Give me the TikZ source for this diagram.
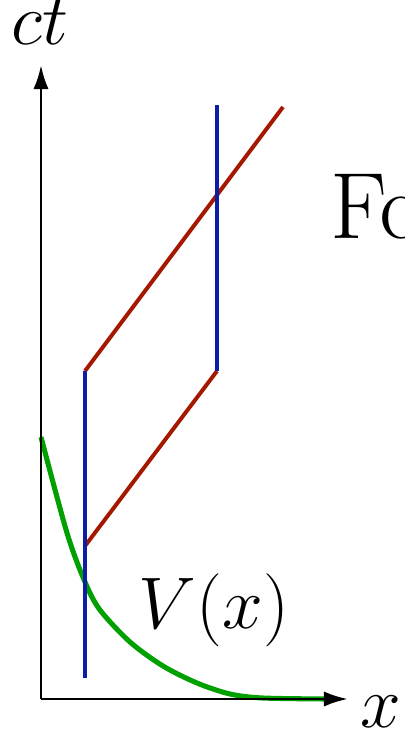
\RequirePackage{fix-cm}
\documentclass[tikz,border=0pt]{standalone}
\usepackage{tikz}
\usetikzlibrary{arrows.meta}
\definecolor{WorldBlue}{HTML}{0C1EA5}
\definecolor{WorldRed}{HTML}{A51800}
\definecolor{WorldGreen}{HTML}{00A000}

\begin{document}
\begin{tikzpicture}[x=0.025cm,y=-0.025cm,>={Latex[length=0.6cm,width=0.38cm]},
  axis/.style={line width=2.1pt,black},
  worldline/.style={line width=2.8pt,WorldBlue},
  lightray/.style={line width=2.8pt,WorldRed},
  potential/.style={line width=3.6pt,WorldGreen},
  biglabel/.style={inner sep=0pt,font=\fontsize{52}{62}\selectfont}]
\useasboundingbox (0,0) rectangle (404,729);
\coordinate (O) at (41,699);
\coordinate (ytip) at (41,65);
\coordinate (xtip) at (348,699);
\coordinate (a0) at (85,678);
\coordinate (a1) at (85,546);
\coordinate (a2) at (85,371);
\coordinate (b1) at (217,371);
\coordinate (b2) at (217,105);
\coordinate (r2) at (283,107);
\draw[potential] plot[smooth,tension=0.5] coordinates {(41,437) (67,533) (85,582) (100,610) (130,642) (163,666) (197,683) (230,694) (263,698) (327,699)};
\draw[axis,->] (O)--(ytip);
\draw[axis,->] (O)--(xtip);
\draw[lightray] (a1)--(b1);
\draw[lightray] (a2)--(r2);
\draw[worldline] (a0)--(a2);
\draw[worldline] (b1)--(b2);
\node[biglabel,anchor=base] (ct) at (40,45) {$ct$};
\node[biglabel,anchor=base] (xl) at (381,727) {$x$};
\node[biglabel,anchor=base] (V) at (214,628) {$V(x)$};
\node[inner sep=0pt,anchor=base west,font=\fontsize{67}{80}\selectfont] (F) at (330,238) {Fc};
\end{tikzpicture}
\end{document}
